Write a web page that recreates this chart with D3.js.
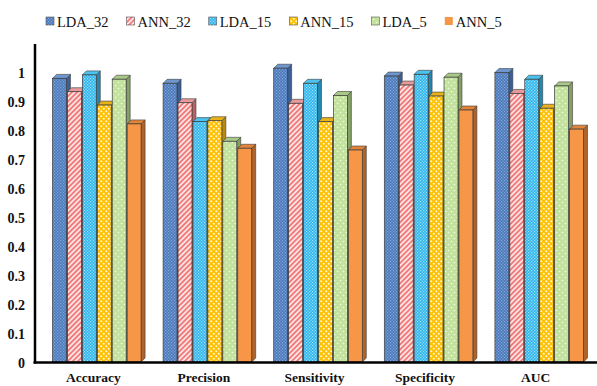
<!DOCTYPE html>
<html>
<head>
<meta charset="utf-8">
<script src="https://cdn.jsdelivr.net/npm/d3@7/dist/d3.min.js"></script>
<style>
  html, body { margin: 0; padding: 0; background: #fff; }
  svg { display: block; }
</style>
</head>
<body>
<svg id="chart" width="597" height="386"></svg>
<script>
// Metric categories along the x axis
const categories = ["Accuracy", "Precision", "Sensitivity", "Specificity", "AUC"];
// Model variants (one bar per variant in each category)
const seriesNames = ["LDA_32", "ANN_32", "LDA_15", "ANN_15", "LDA_5", "ANN_5"];
// Scores per variant, in category order
const LDA_32 = [0.978, 0.961, 1.013, 0.986, 0.998];
const ANN_32 = [0.932, 0.894, 0.892, 0.955, 0.926];
const LDA_15 = [0.990, 0.829, 0.961, 0.992, 0.975];
const ANN_15 = [0.886, 0.832, 0.829, 0.917, 0.875];
const LDA_5  = [0.975, 0.761, 0.919, 0.982, 0.952];
const ANN_5  = [0.821, 0.737, 0.731, 0.869, 0.803];
const yTicks = [0, 0.1, 0.2, 0.3, 0.4, 0.5, 0.6, 0.7, 0.8, 0.9, 1];

const seriesValues = [LDA_32, ANN_32, LDA_15, ANN_15, LDA_5, ANN_5];

// Face colours: front fill (pattern id), top, side
const styles = {
  LDA_32: { fill: "url(#pLDA32)", top: "#6f97cf", side: "#3b6096" },
  ANN_32: { fill: "url(#pANN32)", top: "#e79a9a", side: "#b76464" },
  LDA_15: { fill: "url(#pLDA15)", top: "#4cc2ee", side: "#2587ad" },
  ANN_15: { fill: "url(#pANN15)", top: "#e8b21a", side: "#b98d0c" },
  LDA_5:  { fill: "url(#pLDA5)",  top: "#a9c987", side: "#84a064" },
  ANN_5:  { fill: "#f79646",      top: "#e2843a", side: "#b0642a" }
};

const svg = d3.select("#chart");
const defs = svg.append("defs");

// Checker of light dots over a solid base
function checker(id, base, dot) {
  const p = defs.append("pattern").attr("id", id).attr("patternUnits", "userSpaceOnUse")
    .attr("width", 3).attr("height", 3);
  p.append("rect").attr("width", 3).attr("height", 3).attr("fill", base);
  p.append("rect").attr("x", 0).attr("y", 0).attr("width", 1.2).attr("height", 1.2).attr("fill", dot);
  p.append("rect").attr("x", 1.5).attr("y", 1.5).attr("width", 1.2).attr("height", 1.2).attr("fill", dot);
}
checker("pLDA32", "#4a79bb", "#86a8d8");
checker("pLDA15", "#2eb6ec", "#9fe0fa");

// Diagonal stripes
{
  const p = defs.append("pattern").attr("id", "pANN32").attr("patternUnits", "userSpaceOnUse")
    .attr("width", 3.6).attr("height", 3.6).attr("patternTransform", "rotate(45)");
  p.append("rect").attr("width", 3.6).attr("height", 3.6).attr("fill", "#fde2e2");
  p.append("rect").attr("width", 1.8).attr("height", 3.6).attr("fill", "#f07a7a");
}
// Large white dots on yellow
{
  const p = defs.append("pattern").attr("id", "pANN15").attr("patternUnits", "userSpaceOnUse")
    .attr("width", 5).attr("height", 5);
  p.append("rect").attr("width", 5).attr("height", 5).attr("fill", "#ffc000");
  p.append("circle").attr("cx", 1.25).attr("cy", 1.25).attr("r", 1.1).attr("fill", "#fff6d2");
  p.append("circle").attr("cx", 3.75).attr("cy", 3.75).attr("r", 1.1).attr("fill", "#fff6d2");
}
// Sparse small white dots on green
{
  const p = defs.append("pattern").attr("id", "pLDA5").attr("patternUnits", "userSpaceOnUse")
    .attr("width", 6).attr("height", 6);
  p.append("rect").attr("width", 6).attr("height", 6).attr("fill", "#c3e29d");
  p.append("circle").attr("cx", 1.5).attr("cy", 1.5).attr("r", 0.8).attr("fill", "#f2fae8");
  p.append("circle").attr("cx", 4.5).attr("cy", 4.5).attr("r", 0.8).attr("fill", "#f2fae8");
}

// Scales
const x0 = d3.scaleBand().domain(categories).range([42, 595]).paddingInner(0.19).paddingOuter(0.095);
const x1 = d3.scaleBand().domain(seriesNames).range([0, x0.bandwidth()]);
const y = d3.scaleLinear().domain([0, 1]).range([362, 72]);

const depthX = 4, depthY = 4;
const outline = "#3a3a3a";

// 3D columns: front, top and side faces
const plot = svg.append("g");
categories.forEach((cat, ci) => {
  seriesNames.forEach((s, si) => {
    const v = seriesValues[si][ci];
    const xl = x0(cat) + x1(s);
    const w = x1.bandwidth() - 1;
    const yt = y(v), yb = y(0);
    const st = styles[s];
    const g = plot.append("g");
    g.append("path")
      .attr("d", `M${xl + w},${yt} L${xl + w + depthX},${yt - depthY} L${xl + w + depthX},${yb - depthY} L${xl + w},${yb} Z`)
      .attr("fill", st.side).attr("stroke", outline).attr("stroke-width", 0.6);
    g.append("path")
      .attr("d", `M${xl},${yt} L${xl + depthX},${yt - depthY} L${xl + w + depthX},${yt - depthY} L${xl + w},${yt} Z`)
      .attr("fill", st.top).attr("stroke", outline).attr("stroke-width", 0.6);
    g.append("rect")
      .attr("x", xl).attr("y", yt).attr("width", w).attr("height", yb - yt)
      .attr("fill", st.fill).attr("stroke", outline).attr("stroke-width", 0.7);
  });
});

// Axes
const serif = "'Liberation Serif', 'Times New Roman', serif";
svg.append("line").attr("x1", 35).attr("x2", 35).attr("y1", 44).attr("y2", 363.5)
  .attr("stroke", "#000").attr("stroke-width", 2.5);
svg.append("line").attr("x1", 33.5).attr("x2", 597).attr("y1", 362.5).attr("y2", 362.5)
  .attr("stroke", "#000").attr("stroke-width", 2.5);

svg.append("g").selectAll("text").data(yTicks).join("text")
  .attr("x", 25).attr("y", d => y(d) + 1.5)
  .attr("text-anchor", "end").attr("dominant-baseline", "central")
  .attr("font-family", serif).attr("font-weight", "bold").attr("font-size", 14)
  .attr("fill", "#111")
  .text(d => d3.format("~g")(d));

svg.append("g").selectAll("text").data(categories).join("text")
  .attr("x", d => x0(d) + x0.bandwidth() / 2 - 4)
  .attr("y", 381.5)
  .attr("text-anchor", "middle")
  .attr("font-family", serif).attr("font-weight", "bold").attr("font-size", 13.5)
  .attr("fill", "#111")
  .text(d => d);

// Legend across the top
const legend = svg.append("g");
let lx = 46;
seriesNames.forEach(s => {
  const st = styles[s];
  legend.append("rect").attr("x", lx).attr("y", 17).attr("width", 8).attr("height", 8)
    .attr("fill", st.fill).attr("stroke", s === "ANN_5" ? "none" : "#555").attr("stroke-width", 0.6);
  const t = legend.append("text").attr("x", lx + 11).attr("y", 27)
    .attr("font-family", serif).attr("font-size", 14.5).attr("fill", "#111").text(s);
  lx += 11 + t.node().getComputedTextLength() + 18;
});
</script>
</body>
</html>
